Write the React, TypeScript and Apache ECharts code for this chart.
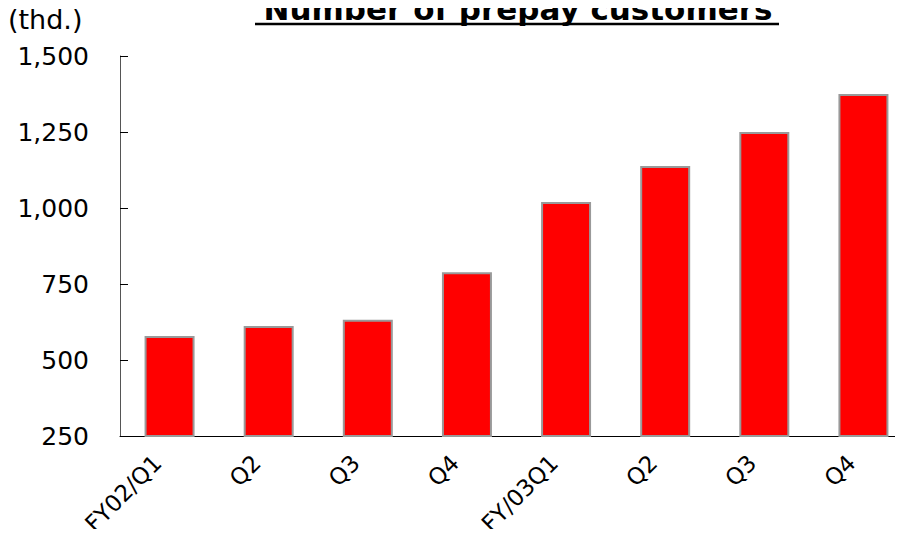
import React, { useEffect, useRef } from "react";
import * as echarts from "echarts";

const quarters = ["FY02/Q1", "Q2", "Q3", "Q4", "FY/03Q1", "Q2", "Q3", "Q4"];
const prepayCustomers = [579, 612, 632, 789, 1020, 1138, 1250, 1375];
const yTicks = { min: 250, max: 1500, interval: 250 };

const FONT = "'DejaVu Sans', Verdana, sans-serif";

export default function App() {
  const ref = useRef<HTMLDivElement>(null);

  useEffect(() => {
    if (!ref.current) return;
    const chart = echarts.init(ref.current, null, { renderer: "svg" });
    chart.setOption({
      animation: false,
      backgroundColor: "#ffffff",
      // plot area runs past the right edge of the canvas
      grid: { left: 120, right: -10, top: 56, bottom: 101, outerBoundsMode: "none" },
      graphic: [
        {
          type: "text",
          left: 8,
          top: 6,
          style: { text: "(thd.)", font: `27px ${FONT}`, fill: "#000" },
        },
        {
          type: "text",
          x: 518,
          y: 24.5,
          style: {
            text: "Number of prepay customers",
            font: `bold 31px ${FONT}`,
            fill: "#000",
            align: "center",
            verticalAlign: "bottom",
          },
        },
        {
          type: "line",
          shape: { x1: 255, y1: 24, x2: 779, y2: 24 },
          style: { stroke: "#000", lineWidth: 2.5 },
        },
      ],
      xAxis: {
        type: "category",
        data: quarters,
        axisLine: { lineStyle: { color: "#000", width: 1 } },
        axisTick: { show: false },
        axisLabel: {
          rotate: 45,
          margin: 11,
          padding: [0, 17, 0, 0],
          color: "#000",
          fontFamily: FONT,
          fontSize: 23,
          interval: 0,
        },
      },
      yAxis: {
        type: "value",
        min: yTicks.min,
        max: yTicks.max,
        interval: yTicks.interval,
        splitLine: { show: false },
        axisLine: { show: true, lineStyle: { color: "#555", width: 1 } },
        axisTick: { show: true, inside: true, length: 8, lineStyle: { color: "#000" } },
        axisLabel: {
          margin: 31,
          color: "#000",
          fontFamily: FONT,
          fontSize: 25,
          formatter: (v: number) => v.toLocaleString("en-US"),
        },
      },
      series: [
        {
          type: "bar",
          data: prepayCustomers,
          barWidth: 50,
          itemStyle: { color: "#ff0000", borderColor: "#999999", borderWidth: 2 },
        },
      ],
    });
    return () => chart.dispose();
  }, []);

  return <div ref={ref} style={{ width: 903, height: 537, margin: -8 }} />;
}
